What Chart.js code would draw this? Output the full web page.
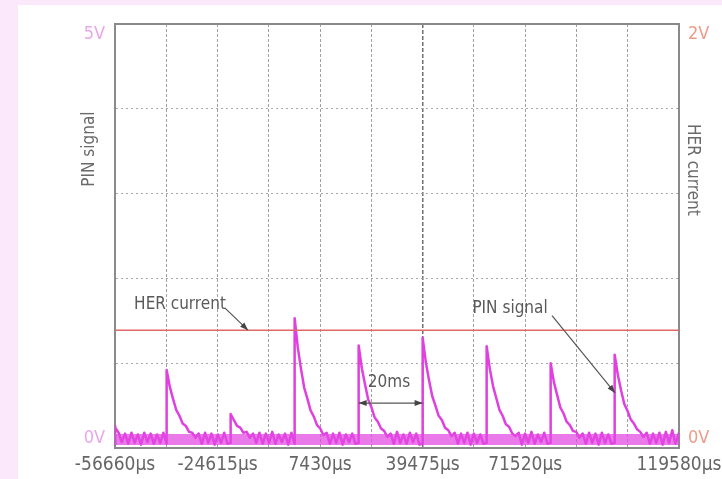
<!DOCTYPE html>
<html><head><meta charset="utf-8">
<script src="https://cdn.jsdelivr.net/npm/chart.js@4"></script>
<style>
html,body{margin:0;padding:0;background:#fbe8fb;width:722px;height:479px;overflow:hidden}
#panel{position:absolute;left:18px;top:5px;width:704px;height:474px;background:#fff}
#c{position:absolute;left:0;top:0}
</style></head><body>
<div id="panel"></div>
<canvas id="c" width="722" height="479"></canvas>
<script>
// ---- data ----
const xGridTicks = [-56660, -40637.5, -24615, -8592.5, 7430, 23452.5, 39475, 55497.5, 71520, 87542.5, 103565, 119580];
const xTickLabels = ['-56660μs', '', '-24615μs', '', '7430μs', '', '39475μs', '', '71520μs', '', '', '119580μs'];
const pinTicks = [0, 1, 2, 3, 4, 5];
const pinTickLabels = {0: '0V', 5: '5V'};
const herTicks = [0, 2];
const herTickLabels = {0: '0V', 2: '2V'};

// PIN signal trace [time µs, volts]
const pinTrace = [
  [-56660,0.04],[-56660,0.26],[-56525,0.24],[-55525,0.18],[-54525,0.07],[-53525,0.17],[-52525,0.05],[-51525,0.18],[-50525,0.06],[-49525,0.16],[-48525,0.04],[-47525,0.18],[-46525,0.07],[-45525,0.17],[-44525,0.05],[-43525,0.16],[-42525,0.06],[-41525,0.18],[-40525,0.05],
  [-40525,0.92],[-39525,0.72],[-38525,0.58],[-37525,0.45],[-36525,0.38],[-35525,0.29],[-34525,0.26],[-33525,0.19],[-32525,0.18],[-31525,0.12],[-30525,0.17],[-29525,0.05],[-28525,0.18],[-27525,0.06],[-26525,0.17],[-25525,0.04],[-24525,0.16],[-23525,0.06],[-22525,0.18],[-21525,0.05],[-20525,0.06],
  [-20525,0.40],[-19525,0.33],[-18525,0.26],[-17525,0.24],[-16525,0.18],[-15525,0.19],[-14525,0.12],[-13525,0.17],[-12525,0.06],[-11525,0.18],[-10525,0.05],[-9525,0.17],[-8525,0.06],[-7525,0.19],[-6525,0.05],[-5525,0.16],[-4525,0.07],[-3525,0.17],[-2525,0.04],[-1525,0.18],[-525,0.05],
  [-525,1.53],[475,1.18],[1475,0.93],[2475,0.71],[3475,0.58],[4475,0.44],[5475,0.37],[6475,0.27],[7475,0.23],[8475,0.15],[9475,0.18],[10475,0.05],[11475,0.17],[12475,0.06],[13475,0.18],[14475,0.04],[15475,0.16],[16475,0.07],[17475,0.17],[18475,0.05],[19475,0.06],
  [19475,1.21],[20475,0.94],[21475,0.75],[22475,0.57],[23475,0.48],[24475,0.36],[25475,0.31],[26475,0.23],[27475,0.20],[28475,0.13],[29475,0.17],[30475,0.05],[31475,0.19],[32475,0.06],[33475,0.16],[34475,0.05],[35475,0.18],[36475,0.07],[37475,0.17],[38475,0.04],[39475,0.05],
  [39475,1.30],[40475,1.01],[41475,0.80],[42475,0.61],[43475,0.50],[44475,0.38],[45475,0.33],[46475,0.24],[47475,0.21],[48475,0.14],[49475,0.18],[50475,0.05],[51475,0.17],[52475,0.06],[53475,0.18],[54475,0.04],[55475,0.17],[56475,0.06],[57475,0.16],[58475,0.05],[59475,0.06],
  [59475,1.20],[60475,0.93],[61475,0.73],[62475,0.59],[63475,0.45],[64475,0.38],[65475,0.28],[66475,0.25],[67475,0.17],[68475,0.14],[69475,0.18],[70475,0.04],[71475,0.17],[72475,0.06],[73475,0.19],[74475,0.05],[75475,0.16],[76475,0.07],[77475,0.18],[78475,0.05],[79475,0.06],
  [79475,1.00],[80475,0.78],[81475,0.63],[82475,0.48],[83475,0.41],[84475,0.31],[85475,0.27],[86475,0.20],[87475,0.19],[88475,0.12],[89475,0.17],[90475,0.05],[91475,0.18],[92475,0.06],[93475,0.17],[94475,0.04],[95475,0.18],[96475,0.06],[97475,0.16],[98475,0.05],[99475,0.06],
  [99475,1.10],[100475,0.86],[101475,0.68],[102475,0.52],[103475,0.44],[104475,0.34],[105475,0.29],[106475,0.22],[107475,0.19],[108475,0.13],[109475,0.18],[110475,0.05],[111475,0.17],[112475,0.06],[113475,0.18],[114475,0.04],[115475,0.19],[116475,0.06],[117475,0.21],[118475,0.05],[119475,0.17],[119580,0.10]
];
// PIN signal noise floor (centre of the noisy band), volts
const pinNoiseFloor = [[-56660, 0.10], [119580, 0.10]];
// HER current level (right axis, V)
const herTrace = [[-56660, 0.556], [119580, 0.556]];

// annotations (data units: x µs, y = PIN-signal volts)
const noteTexts = [
  {text: 'HER current', x: -36350, y: 1.69},
  {text: 'PIN signal',  x: 66780,  y: 1.64},
  {text: '20ms',        x: 28970,  y: 0.77}
];
const noteArrows = [
  {x1: -22285, y1: 1.65, x2: -15100, y2: 1.39, both: false},
  {x1: 79900,  y1: 1.56, x2: 99590,  y2: 0.65, both: false},
  {x1: 19475,  y1: 0.53, x2: 39475,  y2: 0.53, both: true}
];

// ---- rendering ----
const FONT = "'Liberation Sans Narrow','DejaVu Sans Condensed','Liberation Sans',sans-serif";
const toXY = arr => arr.map(([x, y]) => ({x, y}));
const BORDER = '#8a8a8a';
const noPad = s => { s.paddingLeft = 0; s.paddingRight = 0; s.paddingTop = 0; s.paddingBottom = 0; };

function arrowHead(ctx, x1, y1, x2, y2) {
  const a = Math.atan2(y2 - y1, x2 - x1), L = 8, W = 3;
  ctx.beginPath();
  ctx.moveTo(x2, y2);
  ctx.lineTo(x2 - L * Math.cos(a) + W * Math.sin(a), y2 - L * Math.sin(a) - W * Math.cos(a));
  ctx.lineTo(x2 - L * Math.cos(a) - W * Math.sin(a), y2 - L * Math.sin(a) + W * Math.cos(a));
  ctx.closePath();
  ctx.fill();
}

const annotPlugin = {
  id: 'annot',
  afterDraw(chart) {
    const {ctx, chartArea: ca, scales: {x, y}} = chart;
    const h = ca.bottom - ca.top;
    ctx.save();
    ctx.font = `17px ${FONT}`;
    ctx.fillStyle = '#6a6a6a';
    ctx.textAlign = 'center';
    ctx.textBaseline = 'middle';
    ctx.save();
    ctx.translate(ca.left - 25, ca.top + h * 0.295);
    ctx.rotate(-Math.PI / 2);
    ctx.fillText('PIN signal', 0, 0);
    ctx.restore();
    ctx.save();
    ctx.translate(ca.right + 13, ca.top + h * 0.344);
    ctx.rotate(Math.PI / 2);
    ctx.fillText('HER current', 0, 0);
    ctx.restore();
    ctx.fillStyle = '#5a5a5a';
    noteTexts.forEach(n => ctx.fillText(n.text, x.getPixelForValue(n.x), y.getPixelForValue(n.y)));
    ctx.strokeStyle = '#555';
    ctx.lineWidth = 1.2;
    noteArrows.forEach(a => {
      const px1 = x.getPixelForValue(a.x1), py1 = y.getPixelForValue(a.y1);
      const px2 = x.getPixelForValue(a.x2), py2 = y.getPixelForValue(a.y2);
      ctx.beginPath(); ctx.moveTo(px1, py1); ctx.lineTo(px2, py2); ctx.stroke();
      ctx.fillStyle = '#444';
      arrowHead(ctx, px1, py1, px2, py2);
      if (a.both) arrowHead(ctx, px2, py2, px1, py1);
    });
    ctx.restore();
  }
};

const isVal = (ctx, v) => ctx.tick && Math.abs(ctx.tick.value - v) < 1e-6;

new Chart(document.getElementById('c'), {
  type: 'line',
  data: {
    datasets: [
      {label: 'HER current', data: toXY(herTrace), yAxisID: 'y2', borderColor: '#e06868', borderWidth: 1.5, pointRadius: 0},
      {label: 'PIN noise', data: toXY(pinNoiseFloor), yAxisID: 'y', borderColor: 'rgba(226,70,226,0.72)', borderWidth: 11, pointRadius: 0, borderCapStyle: 'butt'},
      {label: 'PIN signal', data: toXY(pinTrace), yAxisID: 'y', borderColor: '#e040e0', borderWidth: 2.5, pointRadius: 0, borderJoinStyle: 'round', tension: 0}
    ]
  },
  options: {
    responsive: false, animation: false, devicePixelRatio: 1,
    layout: {padding: {top: 24, left: 0, right: 0, bottom: 0}},
    plugins: {legend: {display: false}, tooltip: {enabled: false}},
    scales: {
      x: {
        type: 'linear', min: xGridTicks[0], max: xGridTicks[xGridTicks.length - 1],
        afterBuildTicks: s => { s.ticks = xGridTicks.map(v => ({value: v})); },
        afterFit: s => { s.height = 31; noPad(s); },
        ticks: {autoSkip: false, maxRotation: 0, minRotation: 0, padding: 6, color: '#666',
          font: {family: FONT, size: 19}, callback: (v, i) => xTickLabels[i]},
        grid: {drawTicks: false,
          color: ctx => (isVal(ctx, xGridTicks[0]) || isVal(ctx, xGridTicks[11])) ? 'rgba(0,0,0,0)' : (isVal(ctx, 39475) ? '#707070' : '#a0a0a0'),
          lineWidth: ctx => isVal(ctx, 39475) ? 1.5 : 1},
        border: {display: true, color: BORDER, width: 2, dash: ctx => isVal(ctx, 39475) ? [4, 2] : [3, 2]}
      },
      y: {
        position: 'left', min: 0, max: 5,
        afterBuildTicks: s => { s.ticks = pinTicks.map(v => ({value: v})); },
        afterFit: s => { s.width = 115; noPad(s); },
        ticks: {padding: 10, color: '#eaa6ea', font: {family: FONT, size: 18, lineHeight: 1.1},
          callback: v => v === 5 ? ['', pinTickLabels[5]] : (v === 0 ? [pinTickLabels[0], ''] : '')},
        grid: {drawTicks: false,
          color: ctx => isVal(ctx, 0) ? 'rgba(0,0,0,0)' : (isVal(ctx, 5) ? BORDER : '#a8a8a8'),
          lineWidth: ctx => isVal(ctx, 5) ? 2 : 1},
        border: {display: true, color: BORDER, width: 2, dash: ctx => isVal(ctx, 5) ? [] : [2, 3]}
      },
      y2: {
        position: 'right', min: 0, max: 2,
        afterBuildTicks: s => { s.ticks = herTicks.map(v => ({value: v})); },
        afterFit: s => { s.width = 43; noPad(s); },
        ticks: {padding: 9, color: '#ee9c8a', font: {family: FONT, size: 18, lineHeight: 1.1},
          callback: v => v === 2 ? ['', herTickLabels[2]] : (v === 0 ? [herTickLabels[0], ''] : '')},
        grid: {display: false, drawTicks: false},
        border: {display: true, color: BORDER, width: 2}
      }
    }
  },
  plugins: [annotPlugin]
});
</script>
</body></html>
